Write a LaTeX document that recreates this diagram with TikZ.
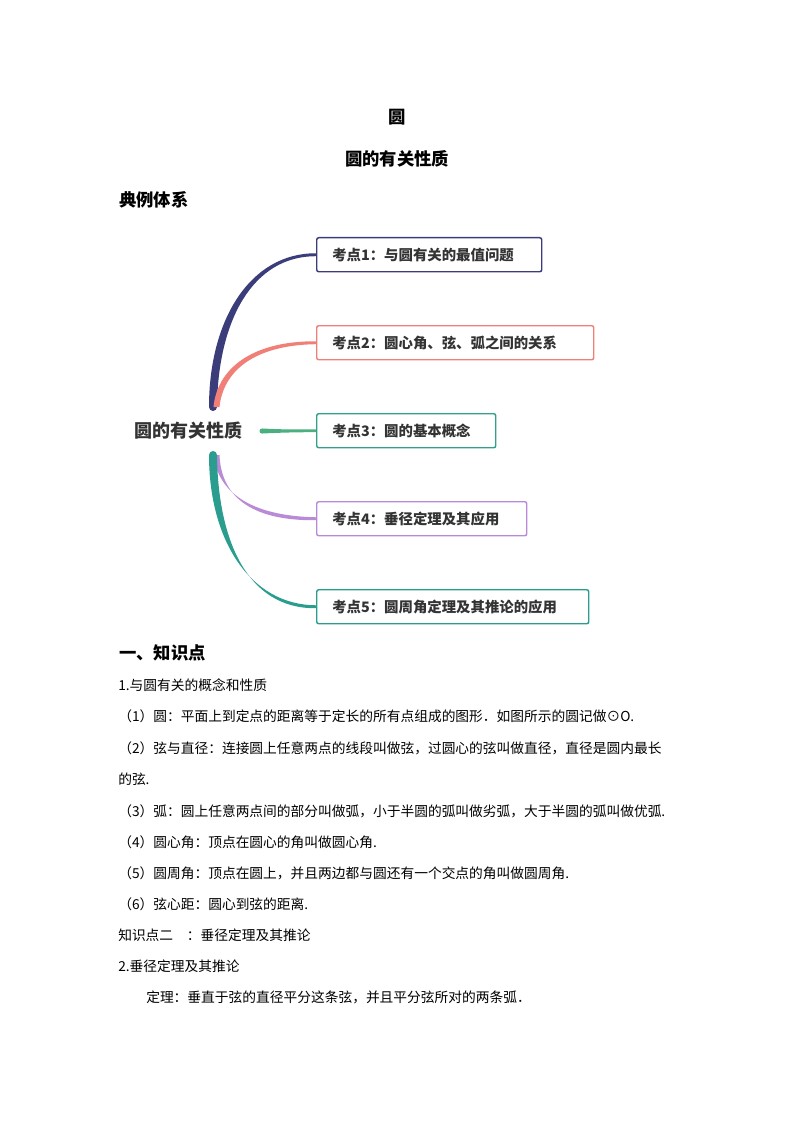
\documentclass[tikz,border=0pt]{standalone}
\usepackage{fontspec}
\setmainfont{Noto Sans CJK SC}
\begin{document}
\begin{tikzpicture}[x=0.75pt,y=-0.75pt,
  kbox/.style={draw,line width=1.1pt,rounded corners=1.5pt,anchor=north west,inner sep=0pt},
  ktext/.style={anchor=west,inner sep=0pt,font=\fontsize{10.8pt}{12pt}\bfseries,text=black!80},
  body/.style={anchor=west,inner sep=0pt,font=\fontsize{10.3pt}{12pt}\selectfont},
  head/.style={anchor=center,inner sep=0pt,font=\fontsize{13pt}{15pt}\bfseries}]
\definecolor{c1}{HTML}{3B3D7A}
\definecolor{c2}{HTML}{F07F78}
\definecolor{c3}{HTML}{4CAF7F}
\definecolor{c4}{HTML}{B98AD6}
\definecolor{c5}{HTML}{2A9D8F}
\useasboundingbox (0,0) rectangle (794,1123);
\node[head] (t1) at (397,117) {圆};
\node[head] (t2) at (397,159) {圆的有关性质};
\node[head,anchor=west] (t3) at (119,200) {典例体系};
% boxes
\path (316,237) node[draw=c1,kbox,minimum width=168.75pt,minimum height=25.5pt] (b1) {};
\path (316,325) node[draw=c2,kbox,minimum width=207.75pt,minimum height=25.5pt] (b2) {};
\path (316,413) node[draw=c5!80!c3,kbox,minimum width=134.25pt,minimum height=25.5pt] (b3) {};
\path (316,501) node[draw=c4,kbox,minimum width=157.5pt,minimum height=25.5pt] (b4) {};
\path (316,589) node[draw=c5,kbox,minimum width=204pt,minimum height=25.5pt] (b5) {};
\foreach \n/\t in {b1/考点1：与圆有关的最值问题,b2/考点2：圆心角、弦、弧之间的关系,b3/考点3：圆的基本概念,b4/考点4：垂径定理及其应用,b5/考点5：圆周角定理及其推论的应用}{
  \node[ktext] at ([xshift=12pt]\n.west) {\t};}
\node[anchor=center,inner sep=0pt,font=\fontsize{13.5pt}{15pt}\bfseries,text=black!80] (c) at (188,431) {圆的有关性质};
% tapered branches
\fill[c1] (209,407) .. controls (209,320) and (250,253) .. ([yshift=1.1pt]b1.west) -- ([yshift=-1.1pt]b1.west) .. controls (253,256) and (218,320) .. (217,407) -- cycle;
\fill[c1] (213,407) circle (4);
\fill[c2] (213.5,407) .. controls (217,370) and (250,341) .. ([yshift=1.1pt]b2.west) -- ([yshift=-1.1pt]b2.west) .. controls (253,345) and (223,372) .. (219.5,407) -- cycle;
\fill[c3] (262,428.5) .. controls (285,429.5) .. ([yshift=1pt]b3.west) -- ([yshift=-1pt]b3.west) .. controls (285,432.5) .. (262,433.5) -- cycle;
\fill[c3] (262,431) circle (2.5);
\fill[c4] (213.5,455) .. controls (218,492) and (250,516) .. ([yshift=1.1pt]b4.west) -- ([yshift=-1.1pt]b4.west) .. controls (248,521) and (221,494) .. (219.5,455) -- cycle;
\fill[c5] (209,455) .. controls (209,540) and (250,605) .. ([yshift=1.1pt]b5.west) -- ([yshift=-1.1pt]b5.west) .. controls (247,609) and (218,540) .. (217,455) -- cycle;
\fill[c5] (213,455) circle (4);
% text
\node[head,anchor=west] (k) at (119,653) {一、知识点};
\node[body] (l1) at (118,685) {1.与圆有关的概念和性质};
\node[body] (l2) at (118,716) {（1）圆：平面上到定点的距离等于定长的所有点组成的图形．如图所示的圆记做⊙O.};
\node[body] (l3) at (118,748) {（2）弦与直径：连接圆上任意两点的线段叫做弦，过圆心的弦叫做直径，直径是圆内最长};
\node[body] (l4) at (118,779) {的弦.};
\node[body] (l5) at (118,811) {（3）弧：圆上任意两点间的部分叫做弧，小于半圆的弧叫做劣弧，大于半圆的弧叫做优弧.};
\node[body] (l6) at (118,842) {（4）圆心角：顶点在圆心的角叫做圆心角.};
\node[body] (l7) at (118,873) {（5）圆周角：顶点在圆上，并且两边都与圆还有一个交点的角叫做圆周角.};
\node[body] (l8) at (118,904) {（6）弦心距：圆心到弦的距离.};
\node[body] (l9) at (118,935) {知识点二\quad ：垂径定理及其推论};
\node[body] (l10) at (118,966) {2.垂径定理及其推论};
\node[body] (l11) at (146,997) {定理：垂直于弦的直径平分这条弦，并且平分弦所对的两条弧．};
\end{tikzpicture}
\end{document}
